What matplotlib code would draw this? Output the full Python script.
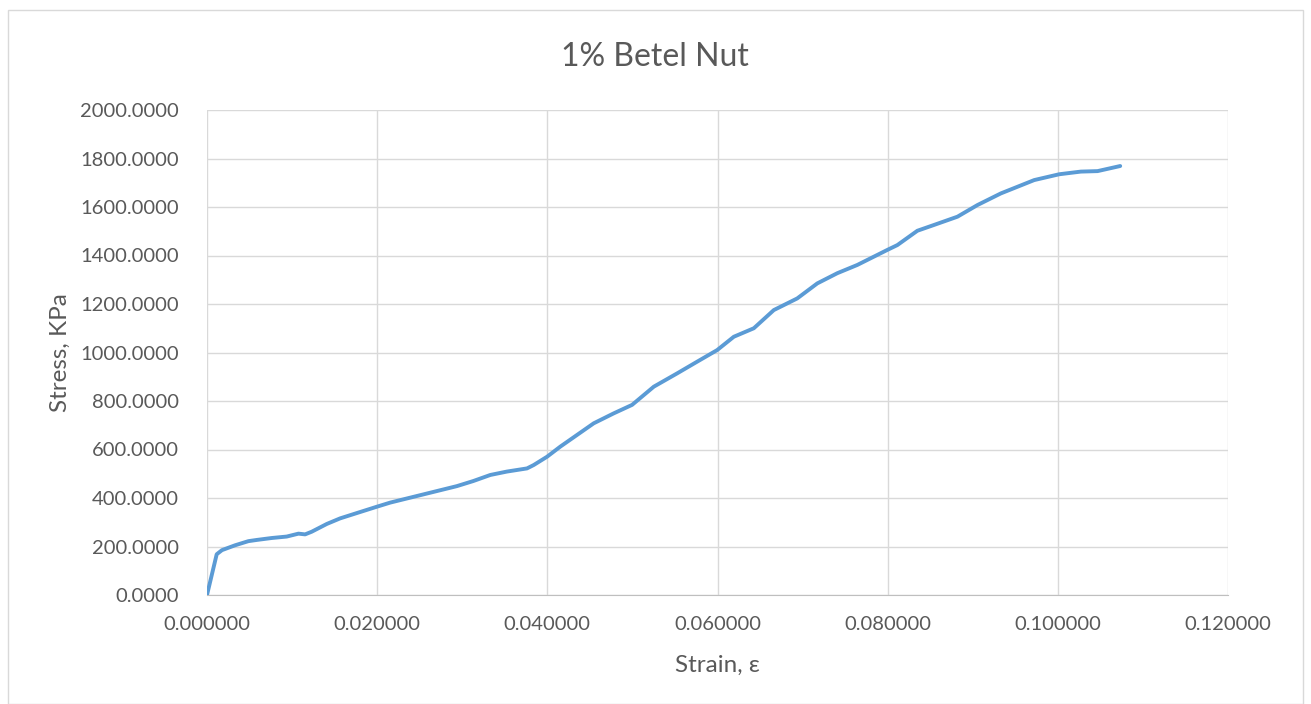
import matplotlib.pyplot as plt
from matplotlib.patches import Rectangle
from matplotlib.ticker import FormatStrFormatter

# strain / stress
strain = [0.0, 0.00114, 0.00176, 0.00330, 0.00486, 0.00584, 0.00760, 0.00937,
          0.01075, 0.01153, 0.01231, 0.01408, 0.01565, 0.01780, 0.01996, 0.02153,
          0.02545, 0.02937, 0.03130, 0.03330, 0.03525, 0.03761, 0.03840, 0.03996,
          0.04153, 0.04545, 0.04780, 0.04996, 0.05251, 0.05526, 0.05760, 0.05996,
          0.06192, 0.06427, 0.06662, 0.06937, 0.07173, 0.07408, 0.07643, 0.07996,
          0.08114, 0.08349, 0.08545, 0.08820, 0.09055, 0.09330, 0.09722, 0.10016,
          0.10271, 0.10467, 0.10733]
stress = [0.0, 168, 185, 205, 222, 227, 235, 241,
          253, 250, 261, 293, 316, 340, 364, 381,
          415, 449, 470, 495, 509, 522, 536, 570,
          612, 708, 749, 784, 859, 914, 962, 1010,
          1065, 1100, 1175, 1223, 1285, 1327, 1361, 1423,
          1443, 1502, 1526, 1560, 1608, 1656, 1711, 1735,
          1746, 1748, 1769]

title = "1% Betel Nut"
xlabel = "Strain, ε"
ylabel = "Stress, KPa"

plt.rcParams['font.family'] = ['Lato', 'DejaVu Sans']
text_col = '#595959'

W, H = 1311, 704
fig = plt.figure(figsize=(W / 100, H / 100), dpi=100)
ax = fig.add_axes([207 / W, 1 - 595 / H, (1228 - 207) / W, (595 - 110) / H])

# light frame around the whole chart, Excel style
fig.patches.append(Rectangle((8 / W, 0), 1295 / W, 694 / H, transform=fig.transFigure,
                             fill=False, edgecolor='#d9d9d9', linewidth=1))

ax.plot(strain, stress, color='#5b9bd5', linewidth=2.8, solid_capstyle='round',
        solid_joinstyle='round', zorder=3)

ax.set_xlim(0, 0.12)
ax.set_ylim(0, 2000)
ax.set_xticks([0, 0.02, 0.04, 0.06, 0.08, 0.10, 0.12])
ax.set_yticks(range(0, 2001, 200))
ax.xaxis.set_major_formatter(FormatStrFormatter('%.6f'))
ax.yaxis.set_major_formatter(FormatStrFormatter('%.4f'))
ax.grid(True, color='#d9d9d9', linewidth=1)
ax.set_axisbelow(True)
for s in ['top', 'right', 'left']:
    ax.spines[s].set_visible(False)
ax.spines['bottom'].set_color('#bfbfbf')
ax.tick_params(length=0, labelsize=14.5, colors=text_col)
ax.tick_params(axis='y', pad=20)
ax.tick_params(axis='x', pad=15)

fig.text(655 / W, 1 - 57 / H, title, fontsize=23, color=text_col, ha='center', va='center')
fig.text(717 / W, 1 - 665 / H, xlabel, fontsize=17.5, color=text_col, ha='center', va='center')
fig.text(60 / W, 1 - 353 / H, ylabel, fontsize=17.5, color=text_col, ha='center', va='center',
         rotation=90)

fig.savefig('out.png', dpi=100)
